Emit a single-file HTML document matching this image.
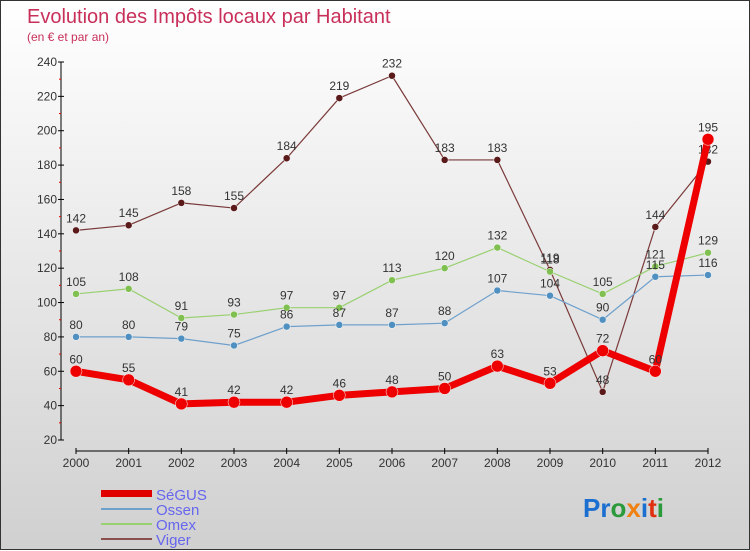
<!DOCTYPE html>
<html><head><meta charset="utf-8"><style>
body{margin:0;width:750px;height:550px;overflow:hidden;font-family:"Liberation Sans",sans-serif}
#wrap{position:relative;width:748px;height:548px;border:1px solid #333;background:linear-gradient(#ffffff,#d0d0d0)}
svg{position:absolute;left:0;top:0}
</style></head><body>
<div id="wrap">
<svg id="chart" width="750" height="550">
<text x="26" y="22" font-size="20" fill="#c8305a">Evolution des Impôts locaux par Habitant</text>
<text x="26" y="40" font-size="12" fill="#c8305a">(en € et par an)</text>
<g id="axes"></g><g id="series"></g>
<g>
<rect x="100" y="489" width="51" height="7" fill="#e00000"/>
<line x1="100" y1="508" x2="151" y2="508" stroke="#6fa0cc" stroke-width="2"/>
<line x1="100" y1="523" x2="151" y2="523" stroke="#99d070" stroke-width="2"/>
<line x1="100" y1="538" x2="151" y2="538" stroke="#8a5050" stroke-width="2"/>
<text x="155" y="499" font-size="15" fill="#6666ee">SéGUS</text>
<text x="155" y="514" font-size="15" fill="#6666ee">Ossen</text>
<text x="155" y="529" font-size="15" fill="#6666ee">Omex</text>
<text x="155" y="544" font-size="15" fill="#6666ee">Viger</text>
</g>
<text x="582" y="516" font-size="26" font-weight="bold"><tspan fill="#1a6fd0">Pr</tspan><tspan fill="#2a9a3a">o</tspan><tspan fill="#f08010">x</tspan><tspan fill="#1a6fd0">i</tspan><tspan fill="#e03010">t</tspan><tspan fill="#2a9a3a">i</tspan></text>
</svg></div>
<script>
const years=[2000,2001,2002,2003,2004,2005,2006,2007,2008,2009,2010,2011,2012];
const yTicks=[20,40,60,80,100,120,140,160,180,200,220,240];
const segus=[60,55,41,42,42,46,48,50,63,53,72,60,195];
const ossen=[80,80,79,75,86,87,87,88,107,104,90,115,116];
const omex=[105,108,91,93,97,97,113,120,132,118,105,121,129];
const viger=[142,145,158,155,184,219,232,183,183,119,48,144,182];
const NS="http://www.w3.org/2000/svg";
const X=i=>75+i*(707-75)/12;
const Y=v=>439-(v-20)*(378/220);
function mk(t,a,p){const e=document.createElementNS(NS,t);for(const k in a)e.setAttribute(k,a[k]);p.appendChild(e);return e;}
const ax=document.getElementById('axes');
const yl=mk('line',{x1:60,y1:61,x2:60,y2:439,stroke:'#000'},ax);


const xl=mk('line',{x1:75,y1:450,x2:707,y2:450,stroke:'#000'},ax);


yTicks.forEach(v=>{
 mk('line',{x1:57,y1:Y(v),x2:63,y2:Y(v),stroke:'#000'},ax);
 if(v<240) mk('line',{x1:58,y1:Y(v+10),x2:60,y2:Y(v+10),stroke:'#e00'},ax);
 const t=mk('text',{x:56,y:Y(v)+4,'text-anchor':'end','font-size':12,fill:'#333'},ax);t.textContent=v;
 
 
});
years.forEach((y,i)=>{
 mk('line',{x1:X(i),y1:447,x2:X(i),y2:453,stroke:'#000'},ax);
 const t=mk('text',{x:X(i),y:466,'text-anchor':'middle','font-size':12,fill:'#333'},ax);t.textContent=y;
 
 
});
const sg=document.getElementById('series');
function draw(data,color,w,r,name,dot){
 const g=mk('g',{},sg);
 
 
 const pl=mk('polyline',{points:data.map((v,i)=>X(i)+','+Y(v)).join(' '),fill:'none',stroke:color,'stroke-width':w,'stroke-linejoin':'round'},g);
 
 
 data.forEach((v,i)=>{
  const c=mk('circle',{cx:X(i),cy:Y(v),r:r,fill:dot,stroke:'#fff','stroke-width':0.5},g);
  
  
  const t=mk('text',{x:X(i),y:Y(v)-8,'text-anchor':'middle','font-size':12,fill:'#333'},g);t.textContent=v;
  
  
 });
}
draw(viger,'#7a3a3a',1.2,3.5,'viger','#5a1a1a');
draw(omex,'#99d070',1.2,3.5,'omex','#80c050');
draw(ossen,'#6fa0cc',1.2,3.5,'ossen','#5090c0');
draw(segus,'#ee0000',7,6,'segus','#ee0000');
</script>
</body></html>
